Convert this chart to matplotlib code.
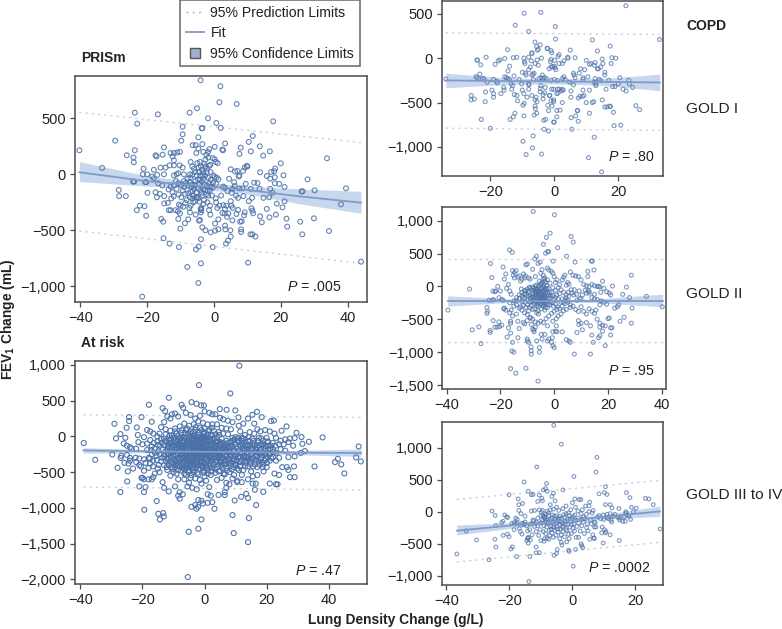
import matplotlib
matplotlib.use('Agg')
import matplotlib.pyplot as plt
import numpy as np
from matplotlib.lines import Line2D
from matplotlib.ticker import FuncFormatter

plt.rcParams['font.family'] = ['Liberation Sans', 'DejaVu Sans']
plt.rcParams['mathtext.fontset'] = 'custom'
plt.rcParams['mathtext.rm'] = 'Liberation Sans'
plt.rcParams['mathtext.it'] = 'Liberation Sans:italic'
plt.rcParams['mathtext.bf'] = 'Liberation Sans:bold'

W, H = 782, 629
POINT = '#4a70a8'
FIT = '#7f9bc6'
BAND = '#c6d7ee'
PRED = '#c5cde6'
FRAME = '#4a4a4a'
TEXT = '#222222'

# values: (lung density change, FEV1 change)
prism_pts = [
(-40.3,214),(-33.5,57),(-29.6,300),(-23.7,550),(-23,452),(-16.8,535),(-7.3,550),(-5.1,589),(-4,839),(1.9,786),
(1.6,643),(6.8,628),(-1.8,500),(0.7,458),(2,414),(-3.5,411),(-3.7,411),(-9.4,425),(-9.4,357),(-9.8,300),(-4.7,330),
(17.7,473),(11.6,342),(10.4,289),(8,238),(7.6,182),(11,205),(13.7,250),(14.7,167),(16.7,205),(33.8,143),(20,98),(18.3,51),
(-26.1,170),(-24.1,150),(-24,107),(-23.7,215),(-23.9,-65),(-24.2,-65),(-28.5,-140),(-28.4,-195),(-26.4,-195),(-23.1,-320),(-22.2,-280),
(-20.8,-285),(-20.3,-370),(-20.3,-70),(-20.6,-70),(-21.3,0),(-21.1,50),(-20,0),(-19.9,-165),(-18,40),(-18,-35),(-17.5,-160),
(-16.7,-80),(-17.1,-205),(-16.2,-175),(-16,60),(-15.5,-100),(-15,240),(-14.9,-260),(-14.9,-195),(-15,0),(-15.1,-571),
(-15.8,-399),(-15.2,-423),(-13.3,-619),(-10.5,-649),(-10.1,-485),(-10.7,-399),(-8,-827),(-3.9,-795),(-4.7,-970),(-21.5,-1092),
(10.2,-789),(-0.4,-649),(-3.9,-580),(-5.4,-670),(-4.6,-645),(3.6,-619),(4.2,-592),(5,-556),(4.9,-500),(3.3,-458),(3.4,-491),
(0.3,-440),(1.3,-402),(-1,-518),(0.3,-503),(1.3,-491),(-2.6,-500),(-3.5,-473),(-4.5,-414),(-4.2,-408),(-7.7,-402),(-8.7,-437),
(7.8,-423),(8.3,-420),(5.5,-411),(8.1,-491),(8.1,-515),(10.9,-536),(11.5,-536),(12.4,-556),(7.2,-318),(9.2,-339),(9,-366),(6.7,-354),
(11.2,-303),(11.5,-324),(11.7,-348),(13.8,-375),(14.3,-428),(15.8,-309),(16.6,-384),(18.5,-360),(18.8,-262),(20.5,-295),(21.1,-241),
(21.7,-396),(21.9,-467),(25.8,-423),(26.4,-536),(29.9,-393),(34.4,-506),(38,-268),(39.5,-125),(30.1,-143),(26.2,-152),(26.5,-152),(28,-45),(44,-780),
(20.8,-9),(21.1,-113),(19.5,-86),(18.2,-80),(18,27),(17.1,21),(18.2,-27),(15.8,-15),(16.8,-39),(13.8,18),(12,-75),(13,-78),
(14.8,-210),(16.5,-205),(16.8,-130),(17.5,-165),(13.6,-130),(11,-130),(9.5,-85),(8.5,-125),(7.5,-125),(6.2,-105),(6,-70),(5.6,-130),(4.5,-40),
(5,45),(6.3,25),(7,30),(7.6,-10),(7.4,-20),(8.7,30),(9.2,60),(9.8,75),(10,70),(3.3,275),(2.5,220),(2.7,215),(0.2,245),(-1.4,225),(-1.8,200),
(-3.5,270),(-5.5,260),(-6.4,260),(-4.7,230),(-5.3,190),(-3.2,200),(-2.3,175),(-1.7,150),(-2.6,130),(-0.4,145),(0.2,135),(0.5,110),(1.1,100),
(-10.2,200),(-11,195),(-12,190),(-13,190),(-12.4,160),(-15.4,175),(-17.5,170),(-17.2,160),(-13.3,80),(-12,80),(-12,125),(-10.3,80),(-9.4,60),
(-14.5,60),(-18.5,-20),(-17,-5),(-11.2,0),(-12,-10),(-10.7,10),(-9,0),(-7,110),(-6.5,70),(-6,50),(-5,100),(-4.2,110),(-3.9,70),(-3.6,40),
(-2.6,70),(-2.1,50),(-1.5,75),(-1,20),(-0.2,-10),(0.2,-25),(0.8,-30),(1.3,-45),(-3.2,15),(-3.4,-10),(-4.5,20),(-5.2,-10),(-6.5,-5),(-7.2,0),
(-7.9,-40),(-7.2,-70),(-6.6,-90),(-6,-130),(-5.5,-60),(-4.8,-45),(-4.2,-50),(-3.6,-65),(-2.8,-90),(-2.1,-100),(-1.4,-80),(-1,-110),(-0.4,-120),
(-4.8,-125),(-4.1,-140),(-3.2,-135),(-2.6,-140),(-1.9,-150),(-8.4,-75),(-9,-60),(-9.8,-95),(-10.6,-80),(-11.4,-60),(-12,-100),(-13,-110),(-13.6,-135),
(-12.4,-160),(-10.6,-180),(-9.8,-205),(-8.7,-175),(-7.7,-170),(-7,-155),(-6.2,-190),(-5.4,-205),(-4.7,-215),(-3.4,-190),(-1.7,-190),(-0.6,-190),
(-12.8,-215),(-13.8,-255),(-12.1,-195),(-11.5,-320),(-10.8,-330),(-10,-280),(-9.2,-290),(-8.2,-230),(-7.4,-300),(-7,-280),(-6.2,-250),(-5.7,-240),
(-5,-200),(-4,-310),(-3.8,-320),(-2,-250),(-1.2,-280),(-1.5,-320),(-1.1,-360),(0.5,-215),(0.6,-250),(1,-300),(1.6,-280),(2.8,-275),(3.3,-310),(3.7,-280),
(2.5,-345),(3.2,-350),(3.9,-380),(4.3,-350),(5,-240),(5.2,-280),(5.6,-300),(2.1,-190),(2.7,-110),(3.2,-120),(4,-150),(5.3,-165),(6.6,-190),(7.2,-210),
(8.8,-195),(10.4,-240),(11.4,-210),(-13,-320),(-13.5,-320),(-10.2,-350),(-7.2,-340),(-5.5,-360),(-3.8,-300),(-3.9,-340),(-10.5,-270),
(-6.8,-115),(-5.8,-95),(-4.4,-85),(-3.1,-40),(-1.8,-30),(-1,-50),(-0.3,-75),(0.6,-85),(-8.9,-115),(-7.9,-100),(-6.4,-150),(-5.3,-165),(-3.7,-165),(-2.4,-180),
(-1.2,-140),(-9.3,-145),(-11.2,-130),(-7.1,-30),(-4.1,-10),(-2.7,-15),(-2.2,20),(-1.1,85),(-3,95),(-4.6,60),(-5.7,20),(-7.2,-205),(-8.6,-255),(-6.5,-215),(-4.3,-245),(-3,-230),(-3.2,-265)]

risk_pts = [
(11.2,989),(-1.8,718),(8.3,602),(-11.5,541),(-17.9,443),(-4.2,480),(-2.6,457),(-7.4,443),(-6.9,401),(-1.1,434),(-0.2,434),(-13.5,397),(-12.7,355),
(9.9,364),(4.9,383),(7.1,373),(16.9,345),(15.4,303),(18.4,270),(10.9,266),(-24.3,270),(-24.3,215),(-20.3,270),(-17,205),(-29,177),(-25.1,121),
(-21.8,126),(-27.1,33),(-28.5,-28),(-25.5,-19),(-38.9,-93),(-35.2,-327),(-29.7,-252),(-28,-439),(-24.9,-630),(-27.1,-779),(-21,-700),(-19.5,-779),
(-19,-709),(-15.4,-905),(-19.4,-1027),(-14.9,-1083),(-13.3,-1073),(-13.1,-1120),(-14.4,-1162),(-5.1,-1334),(-2,-1292),(-1,-1162),(-5.4,-1969),
(9.4,-1353),(14,-1479),(14.3,-1143),(9,-1101),(16.6,-961),(3.2,-1012),(-2.6,-1012),(-4.2,-985),(-2.1,-985),(9.7,-896),(11.8,-845),(13.4,-803),(14,-863),
(18.9,-775),(16.2,-747),(50.3,-350),(49.6,-140),(48.8,-294),(45,-518),(44,-392),(42.9,-313),(42,-359),(38,-14),(35.4,-420),(33.6,-75),(32.3,-205),
(31.2,-9),(31.5,-103),(29.6,51),(29,-23),(26.4,140),(24.8,79),(22.3,224),(21.4,215),
(-26,-100),(-25,-130),(-25,-260),(-26.8,-270),(-27,-300),(-25.8,-370),(-24.5,-380),(-24,-300),(-24,-340),(-24.7,-490),(-23,-450),(-23.5,-170),(-22,-170),
(-24,-150),(-22.2,-300),(-21,-310),(-22,-360),(-20.5,-420),(-21,-400),(-19.5,-320),(-19,-370),(-20,-580),(-19.5,-600),(-18,-600),(-17,-600),(-16.5,-570),
(-21.5,20),(-19.5,-10),(-21.3,-80),(-20,-110),(-18.5,-190),(-18.5,90),(-17.5,70),(-16.5,40),(-17.5,-50),(-18.5,-100),(-17,-140),(-17,-250),(-18,-300),
(-16.5,-340),(-15.5,-270),(-15,-210),(-15,-120),(-15.2,0),(-14.5,40),(-14,130),(-12.5,100),(-13,200),(-11,250),(-10.5,310),(-12,280),(-9.5,320),(-8.5,280),
(-6,330),(-4.5,300),(-3,250),(-1.5,290),(0,350),(1.5,330),(2.5,310),(3.5,310),(5,260),(6,240),(7.5,220),(9,200),(11,150),(12.5,180),(14,250),(16,180),(17,100),
(18,70),(19.5,90),(21,70),(22.5,40),(23,-20),(24.5,-60),(26,-40),(27.5,-30),(28.5,-130),(26,-200),(24.5,-180),(27,-290),(29,-280),(31,-230),(24,-300),
(23,-340),(25,-430),(26.5,-430),(27,-470),(28.8,-420),(27.5,-570),(29,-570),(23,-670),(23.5,-670),(21,-660),(24,-540),(22.5,-520),(19,-490),(17,-540),
(15.5,-660),(16.5,-660),(15.5,-560),(14,-600),(12,-640),(10.5,-620),(10.5,-640),(8,-670),(7,-720),(6.5,-780),(4.5,-820),(6.5,-820),(2,-830),(1,-810),(-2,-890),
(-1,-900),(-0.5,-940),(1,-930),(2.5,-920),(-3,-960),(-5.5,-700),(-8,-780),(-8.5,-830),(-8,-870),(-7,-810),(-9.5,-700),(-11.5,-770),(-13.5,-640),(-13,-720),
(-11,-550),(-10,-500),(-8.5,-600),(-6.5,-600),(-5,-650),(-4,-720),(-2.5,-740),(-1,-660),(0.5,-620),(1.5,-710),(4,-610),(5.5,-580),(7,-650),(9,-590),(12,-540),
(14,-420),(15,-490),(17,-430),(18.5,-360),(19.5,-310),(21,-250),(22,-180),(20.5,-130),(19,-60),(17.5,-20),(16,40),(14.5,60),(13,20),(11.5,70),(10,-10),
(8.5,100),(7,110),(5.5,120),(4,170),(2.5,170),(1,170),(-0.5,190),(-2,210),(-3.5,170),(-5,150),(-6.5,180),(-8,140),(-9.5,110),(-11,80),(-12.5,30),(-14,-40),
(-13,-120),(-12,-170),(-13,-250),(-14,-350),(-13,-400),(-12,-470),(-10.5,-430),(-9,-520),(-7.5,-480),(-6,-540),(-4.5,-580),(-3,-590),(-1.5,-610),(0,-560),
(2,-540),(3.5,-510),(5,-480),(6.5,-530),(8,-500),(9.5,-540),(11,-470),(12.5,-470),(13.5,-340),(15,-320),(16.5,-280),(18,-240),(19.5,-200),(17,-150),(15.5,-100),
(14,-60),(12,-100),(10.5,-60),(9,-20),(7.5,30),(6,40),(4.5,60),(3,80),(1.5,90),(0,110),(-1.5,120),(-3,90),(-4.5,70),(-6,90),(-7.5,50),(-9,40),(-10.5,10),(-11.5,-50),
(-10.5,-130),(-11,-210),(-10,-280),(-11,-350),(-9.5,-400),(-8,-420),(-6.5,-460),(-5,-470),(-3.5,-500),(-2,-530),(-0.5,-480),(1,-470),(2.5,-440),(4,-430),(5.5,-400),
(7,-440),(8.5,-410),(10,-400),(11.5,-360),(12.5,-280),(14,-230),(12.8,-170),(11.5,-130),(10,-110),(8.5,-90),(7,-60),(5.5,-30),(4,-10),(2.5,10),(1,30),(-0.5,40),
(-2,20),(-3.5,10),(-5,-5),(-6.5,-10),(-8,-30),(-9.5,-50),(-9,-120),(-8.2,-180),(-8.7,-240),(-8,-310),(-7,-370),(-5.5,-390),(-4,-410),(-2.5,-430),(-1,-410),(0.5,-400),
(2,-380),(3.5,-360),(5,-340),(6.5,-350),(8,-330),(9.5,-320),(10.5,-250),(9.5,-190),(8,-170),(6.5,-130),(5,-110),(3.5,-80),(2,-60),(0.5,-40),(-1,-30),(-2.5,-50),(-4,-60),
(-5.5,-70),(-7,-90),(-7,-150),(-6,-210),(-6.8,-270),(-5.5,-320),(-4,-340),(-2.5,-360),(-1,-340),(0.5,-320),(2,-300),(3.5,-280),(5,-270),(6.5,-260),(8,-250),(7,-200),
(5.5,-190),(4,-150),(2.5,-130),(1,-110),(-0.5,-100),(-2,-110),(-3.5,-120),(-5,-130),(-4.5,-190),(-5,-250),(-4,-280),(-2.5,-300),(-1,-270),(0.5,-250),(2,-230),(3.5,-210),
(2.5,-180),(1,-170),(-0.5,-160),(-2,-170),(-3.5,-180),(-3,-240),(-1.5,-220),(0,-210),(1,-270),(-3.5,-310),(-2,-260),(-6,-150),(-7.8,-120),(-8,-60),(-10,-80),(-12,-300),
(-15,-450),(-16,-520),(-14.5,-500),(-16,-170),(-17.5,-380),(-18,-440),(-19.5,-480),(-20.3,-580),(-9,-380),(-5,-30),(-3,-20),(-1,-5),(0,0),(2,20),(12,-20),(13,-190),(14,-120),
(15,-170),(16,-220),(17,-270),(18,-320),(19,-390),(20,-430),(21,-340),(22,-290),(23,-230),(24,-110),(25.5,-110),(27,-80),(22,-90),(20,-20),(18.5,-130),(20.5,-190)]

# the packed middle of the at risk cloud
risk_core = [
(-13.7,-90),(-13.4,-180),(-13.6,-300),(-12.7,-60),(-12.6,-210),(-12.4,-350),(-12.2,-430),(-11.8,-130),(-11.7,-250),(-11.6,-390),(-11.3,10),(-11.2,-100),(-11.1,-170),(-11,-280),
(-10.8,-30),(-10.7,-240),(-10.6,-380),(-10.4,-160),(-10.3,-460),(-10,-20),(-9.9,-120),(-9.8,-220),(-9.7,-320),(-9.5,-440),(-9.4,70),(-9.3,-170),(-9.2,-270),(-9.1,-350),(-8.9,-60),
(-8.8,-150),(-8.7,-300),(-8.6,-410),(-8.5,-470),(-8.4,10),(-8.3,-90),(-8.2,-220),(-8.1,-360),(-7.9,-150),(-7.8,-260),(-7.7,-20),(-7.6,-200),(-7.5,-330),(-7.4,-400),(-7.3,90),(-7.2,-120),
(-7.1,-240),(-7,-300),(-6.9,-440),(-6.8,-50),(-6.7,-170),(-6.6,-340),(-6.5,-520),(-6.4,40),(-6.3,-110),(-6.2,-280),(-6.1,-400),(-6,-30),(-5.9,-250),(-5.8,-180),(-5.7,-440),(-5.6,110),(-5.5,-100),
(-5.4,-270),(-5.3,-350),(-5.2,-500),(-5.1,-60),(-5,-170),(-4.9,-300),(-4.8,-420),(-4.7,40),(-4.6,-90),(-4.5,-230),(-4.4,-380),(-4.3,-540),(-4.2,-20),(-4.1,-150),(-4,-250),(-3.9,-450),(-3.8,60),
(-3.7,-90),(-3.6,-210),(-3.5,-370),(-3.4,-470),(-3.3,-40),(-3.2,-140),(-3.1,-280),(-3,-400),(-2.9,130),(-2.8,-70),(-2.7,-200),(-2.6,-330),(-2.4,-510),(-2.3,-10),(-2.2,-130),(-2.1,-240),(-2,-390),
(-1.9,60),(-1.8,-80),(-1.7,-190),(-1.6,-300),(-1.5,-450),(-1.4,-30),(-1.3,-140),(-1.2,-240),(-1.1,-380),(-1,90),(-0.9,-70),(-0.8,-200),(-0.7,-310),(-0.6,-440),(-0.5,-10),(-0.4,-130),(-0.3,-230),(-0.2,-360),
(-0.1,-510),(0,60),(0.1,-80),(0.2,-180),(0.3,-290),(0.4,-430),(0.6,-20),(0.7,-140),(0.8,-220),(0.9,-350),(1.1,-520),(1.2,70),(1.3,-70),(1.4,-190),(1.5,-300),(1.6,-420),(1.8,-30),(1.9,-130),(2,-260),
(2.1,-340),(2.3,-490),(2.4,120),(2.6,-90),(2.7,-210),(2.8,-310),(2.9,-400),(3.1,-40),(3.2,-160),(3.3,-250),(3.4,-460),(3.6,30),(3.7,-120),(3.8,-230),(3.9,-330),(4.1,-70),(4.2,-190),(4.3,-290),(4.4,-390),
(4.6,-490),(4.7,20),(4.8,-140),(4.9,-240),(5.1,-80),(5.2,-310),(5.3,-370),(5.6,-160),(5.7,-230),(5.8,-440),(6,-90),(6.1,-300),(6.2,-520),(6.4,-180),(6.6,-390),(6.8,-110),(7,-280),(7.2,-480),(7.4,-150),
(7.6,-330),(7.8,-210),(8.2,-130),(8.4,-290),(8.6,-370),(8.8,-460),(9.2,-60),(9.4,-220),(9.6,-280),(9.8,-380),(10.2,-150),(10.4,-330),(10.6,-450),(10.8,-20),(11.2,-190),(11.4,-290),(11.6,-410),(12,-60),
(12.2,-230),(12.4,-130),(12.6,-350),(13,-420),(13.2,-80),(13.4,-290),(13.6,-180),(14.2,-10),(14.4,-310),(14.6,-130),(14.8,-390),(15.2,-230),(15.4,-30),(15.6,-420),(16.2,-130),(16.4,-340),(16.6,-190),(17.2,-60),
(17.4,-350),(17.8,-220),(18.2,-110),(18.4,-290),(18.7,-430),(19.2,-160),(19.4,-250),(20.2,-80),(20.4,-290),(21.2,-170),(21.4,-300),(-14.5,-250),(-14.3,-130),(-14.7,-400),(-15.2,-70),(-15.4,-330),(-16,-230),
(-16.3,-90),(-16.6,-420),(-17.2,-190),(-17.6,-310),
(-13.1,-30),(-12.9,-280),(-12.3,-70),(-11.9,-320),(-11.5,-140),(-10.9,-90),(-10.5,-300),(-10.1,-370),(-9.6,-20),(-9.4,-260),(-9,-170),(-8.6,-120),(-8.3,-330),(-8,-100),(-7.7,-390),(-7.4,-170),(-7.1,-20),
(-6.9,-200),(-6.6,-70),(-6.3,-320),(-6,-430),(-5.8,-130),(-5.6,-290),(-5.3,30),(-5,-90),(-4.8,-250),(-4.6,-350),(-4.3,-130),(-4.1,-440),(-3.9,-30),(-3.7,-240),(-3.4,-90),(-3.2,-320),(-3,-170),(-2.8,10),
(-2.6,-250),(-2.4,-130),(-2.2,-400),(-1.9,-200),(-1.7,-30),(-1.5,-120),(-1.3,-350),(-1.1,-180),(-0.9,-290),(-0.7,-90),(-0.4,-420),(-0.2,-40),(0.1,-290),(0.3,-130),(0.5,-200),(0.8,-440),(1,-60),(1.2,-230),
(1.4,-340),(1.7,-120),(2,-170),(2.2,-280),(2.5,-30),(2.8,-110),(3,-390),(3.3,-200),(3.6,-300),(3.9,-90),(4.2,-240),(4.5,-180),(4.8,-290),(5.1,-350),(5.4,-120),(5.7,-300),(6,-220),(6.3,-390),(6.6,-150),(6.9,-340),
(7.2,-270),(7.5,-90),(7.8,-380),(8.1,-210),(8.4,-70),(8.7,-260),(9,-140),(9.3,-430),(9.6,-40),(9.9,-260),(10.2,-350),(10.5,-170),(10.8,-290),(11.1,-80),(11.4,-420),(11.7,-240),(12,-330),(12.3,-170),(12.6,-30),
(12.9,-260),(13.2,-370),(13.5,-120),(13.8,-300),(14.1,-190),(14.4,-70),(14.7,-350),(15,-250),(15.3,-130),(15.6,-300),(15.9,-60),(16.2,-390),(16.5,-170),(16.8,-320),(17.1,-230),(17.4,-120),(17.7,-400),(18,-180),
(18.3,-30),(18.6,-260),(18.9,-110),(19.2,-340),(19.5,-130),(19.8,-240),(20.1,-370),(20.4,-70),(20.7,-240),(21.5,-130),(22.2,-220),(22.8,-130)]

gold1_pts = [
(-33.9,-235),(-26,-420),(-26,-470),(-25,-460),(-22.8,-690),(-20,-790),(-24.2,-20),(-24,-25),(-21.3,10),(-23,-75),(-18.5,-70),(-17.5,-30),(-17,-20),(-15.5,-5),(-14.6,95),
(-14.5,-145),(-14,-90),(-12.8,5),(-11.7,10),(-12.2,370),(-8,300),(-9.4,505),(-4.2,515),(0.3,355),(0.4,215),(11.9,205),(17.5,135),(22.4,590),(32.9,210),(13.5,80),(18,5),(19.2,0),(17.8,-60),
(-24.5,-210),(-24,-220),(-23.3,-180),(-22.5,-230),(-22,-230),(-21,-270),(-21.5,-380),(-21.6,-490),(-19.5,-360),(-19,-400),(-19,-440),(-19,-240),(-18,-260),(-17.8,-280),(-16.7,-400),
(-15.8,-330),(-15.7,-360),(-15.5,-210),(-15,-220),(-14.5,-230),(-14,-240),(-13.5,-290),(-13,-310),(-13.3,-350),(-12.6,-200),(-12.5,-410),(-12.3,-620),(-12.8,-660),(-13.8,-690),(-11.7,-420),(-11.5,-480),
(-11,-240),(-10.2,-290),(-10,-360),(-10,-160),(-9.5,0),(-9.3,-40),(-9.2,-60),(-9,-170),(-8.8,-190),(-9.5,-400),(-9.8,-530),(-9.4,-510),(-9.5,-650),(-8.5,-440),(-8,-350),(-8,-290),(-7.9,-300),(-8,-130),(-8,10),
(-7.5,-100),(-7,50),(-7,60),(-7.2,-30),(-7,-190),(-6.7,-180),(-6.3,-170),(-6.5,-240),(-6.3,-640),(-6,-540),(-5.9,-570),(-5.5,-620),(-7,-420),(-5.7,-440),(-6,-470),(-5.4,-490),
(-6,180),(-5.5,130),(-5.3,90),(-5,100),(-4.4,150),(-4,0),(-5.3,-20),(-6,-60),(-5,-80),(-4.8,-230),(-4.2,-220),(-3.7,-190),(-3.5,-230),(-3,-220),(-2.5,-230),(-2.8,-330),(-4.2,-310),(-4.4,-340),
(-4.4,-380),(-3.5,-410),(-3,-390),(-3.5,-460),(-3.3,-700),(-2.7,-690),(-3.2,-800),(-1.8,-820),(-4,-1080),(-6.8,-1010),(-6.6,-875),(-9.8,-935),(-8.8,-1085),(-2.2,110),(-2.1,108),(-1,85),(-0.8,60),(-1,-15),(-1.2,-40),(0.1,-25),
(-1.6,-120),(-1,-100),(-0.5,-95),(0,-90),(0.2,-110),(0.5,-130),(-1,-250),(0,-240),(1,-250),(-0.8,-350),(-0.2,-350),(1,-350),(1.2,-390),(1.5,-350),(0.8,-400),(-1.5,-420),(-1.4,-420),(-1,-480),(-0.2,-470),(-0.2,-490),(-2,-530),
(-0.7,-540),(-1.8,-590),(0.8,-590),(1.8,-585),(0.8,-660),(-0.2,-720),(0,-720),(2.5,-500),(2.5,-350),(2.8,-360),(2.2,-370),(3,-210),(2.6,-230),(3.4,-240),(1.5,-60),(2.5,-60),(3,-30),(1.2,20),(1.5,40),(4.2,10),(4.3,0),(5,90),(6.5,5),
(4.8,-270),(5.2,-370),(5.2,-440),(6,-300),(5.3,-670),(6.7,-650),(5.5,-800),(7.5,-710),(7.3,-590),(7.2,-590),(7.5,-450),(8,-430),(9,-360),(8.8,-430),(9.3,-420),(10,-500),(11,-360),(11,-620),(11.9,-500),(12.3,-490),(13,-310),
(6,-170),(6.2,-190),(6.5,-220),(7.8,-170),(8.2,-120),(9,-240),(9,-220),(9.5,-130),(10,-25),(10.5,-210),(11,-70),(11.5,-60),(12.5,-80),(12.8,-50),(13.5,-120),(13.8,-120),(14.5,-100),(15,-10),(15.2,-60),(15.8,-160),
(15.8,-190),(12.5,-270),(12.8,-230),(13,-290),(14,-240),(14.5,-250),(15,-470),(15.8,-550),(16.5,-550),(17.3,-540),(17.6,-545),(14.8,-1280),(12.5,-890),(10.7,-1120),(16.2,-350),(17,-250),(18.2,-320),(18.5,-610),(18.7,-760),
(19,-320),(20,-290),(20.5,-220),(20.8,-755),(21.5,-350),(22.5,-370),(23.3,-250),(23.5,-290),(24.5,-330),(25.5,-535),(26.7,-580)]

gold2_pts = [
(-39.5,-360),(-31.5,-40),(-30.5,-660),(-28,-615),(-27.2,-870),(-25,-320),(-25,-410),(-24.8,-380),(-23.7,350),(-23.2,135),(-23.8,-670),(-23.8,-700),(-24.2,-210),(-23,-210),(-22.8,-70),(-22,-80),(-22.7,-520),(-22,-620),(-21.2,-620),
(-20.6,-540),(-20.3,-610),(-19.5,-590),(-19,295),(-18.5,110),(-18,190),(-17.5,-770),(-17,-630),(-16.6,555),(-15.6,520),(-16.5,-250),(-16.2,-530),(-16.2,-1250),(-15.7,-980),(-15,-1000),(-14.3,-1320),(-13.5,-780),
(-15.5,-850),(-16.2,-710),(-10.5,-1245),(-10,-800),(-10,-830),(-9.5,-850),(-8.6,-920),(-8.5,-980),(-8.5,-1030),(-7.8,1140),(-7.2,420),(-6.6,460),(-6,-1440),(-5.5,-930),(-5.5,-1000),(0.1,1090),(-2.9,745),(-1.5,810),
(-4,640),(-3.2,505),(-2.4,530),(-2.1,530),(-0.4,385),(1.3,590),(4.6,460),(6.3,760),(7.1,675),(7.8,370),(13.8,385),(14.2,385),(14.8,250),(12.5,230),(12.5,150),(28.7,170),(26.9,-10),(21.7,5),
(-21,0),(-21.8,-70),(-22.5,-200),(-20.5,-170),(-20,-70),(-19.5,-200),(-19,-210),(-18.8,-340),(-18.5,-330),(-18,-360),(-17.7,-30),(-17,30),(-16.5,-70),(-16,-120),(-15.5,240),(-15.2,170),(-14.8,130),(-14.7,210),(-14.2,240),
(-13.5,140),(-13,160),(-12.5,80),(-12,110),(-11.4,190),(-11,130),(-10.7,160),(-10.5,330),(-10,340),(-9.5,130),(-9,110),(-8,260),(-7,150),(-6,350),(-5.2,370),(-5,200),(-4.5,255),(-4,170),(-2.5,280),(-2,250),
(-1,230),(-0.5,200),(0,150),(0.5,60),(1,100),(2,30),(3,100),(3.5,140),(4,170),(4.5,20),(5,60),(5.5,35),(6,220),(7,170),(8,160),(9,150),(10,100),(11,30),(12,10),(13,0),(14,30),(15,10),(16,0),(17,-5),(18,80),(18.5,-30),(19.5,-80),
(20.5,-100),(21,-130),(17,-280),(16,-200),(15,-120),(13,-80),(12,-100),(11.5,-60),(10,-190),(9.5,-180),(8.5,-210),(7.5,-50),(6.5,-100),(5.5,-150),(4.5,-130),(3.5,-90),(2.5,-50),(1.5,-20),(0.5,-60),(-0.5,-20),(-1.5,50),(-2.5,100),
(-3.5,130),(-4,120),(-3.5,90),(-4.5,60),(-5,30),(-5.5,80),(-6.5,20),(-7,10),(-8,-10),(-9,-30),(-10,-40),(-11,-60),(-12,-90),(-13,-130),(-14,-170),(-15,-220),(-14,-280),(-13,-330),(-12,-360),(-11,-400),(-10,-430),(-9,-470),
(-8,-500),(-7,-540),(-6,-560),(-5,-530),(-4,-550),(-3,-490),(-2,-450),(-1,-410),(0,-380),(1,-350),(2,-340),(3,-300),(4,-260),(5,-240),(6,-280),(7,-300),(8,-350),(9,-380),(10,-310),(11,-380),(12,-420),(13,-340),(14,-380),(15,-410),
(16,-500),(17,-560),(18,-590),(19,-600),(20,-490),(20.5,-480),(21.5,-630),(21,-630),(21,-740),(19,-900),(18,-680),(17,-620),(17,-750),(16.5,-780),(14,-740),(14.5,-850),(13.5,-1030),(7.5,-1030),(6,-850),(5.5,-830),(4.5,-810),
(3,-690),(1,-690),(0.5,-680),(0.8,-600),(-0.5,-690),(-0.7,-780),(-1,-850),(-0.5,-900),(0,-930),(-2,-800),(-2.5,-830),(-3.5,-730),(-4.8,-730),(-4.5,-800),(-6.5,-830),(-7.5,-690),(-8,-650),(-7.5,-660),(-7,-620),(-8.5,-580),(-8.7,-480),
(-10,-520),(-11,-570),(-11.5,-550),(-13,-640),(-13.5,-530),(-14,-420),(-15.5,-450),(-16.2,-560),(-16.5,-400),(-16,-360),(-15,-300),(-14,-220),(-13,-180),(-12,-140),(-11,-110),(-10.5,-70),(-9.5,-80),(-9,-130),(-8.5,-170),
(-8,-110),(-7.5,-60),(-7,-90),(-6.5,-150),(-6,-110),(-5.5,-60),(-5,-30),(-4.5,-80),(-4,-60),(-3.5,-40),(-3,-30),(-2.5,-100),(-2,-130),(-1.5,-170),(-1,-90),(-0.5,-140),(0,-200),(0.5,-170),(1,-130),(1.5,-190),(2,-110),(3,-190),
(4,-210),(5,-210),(6,-320),(4.5,-350),(3.5,-370),(2.5,-420),(1.5,-450),(0.8,-490),(-0.5,-530),(-2.5,-600),(-3.5,-360),(-4,-300),(-5,-270),(-6,-230),(-7,-190),(-8,-210),(-9,-240),(-10,-200),(-11,-180),(-12,-230),(-12.5,-310),
(-11.5,-290),(-10.5,-320),(-9.5,-370),(-8.5,-290),(-7.5,-260),(-6.5,-290),(-5.5,-190),(-4.5,-170),(-3.5,-200),(-3,-250),(-2.5,-320),(-1.5,-280),(-0.5,-250),(-3.8,-130),(-4.5,-110),(-5,-160),(-5.5,-130),(-6,-180),(-6.7,-60),
(-7.2,-140),(-7.7,-180),(-8.3,-230),(-4,-10),(-3.5,-150),(-4.2,-190),(-5.2,-220),(-6.2,-260),(-7.2,-340),(-6.5,-400),(-6,-370),(-5.8,-420),(-3.7,-270),(-4.8,-340),(9,-520),(10,-560),(10.5,-660),(9.2,-580),(8.5,-700),(12,-550),(13.5,-600),
(15.5,-360),(17.5,-220),(18.5,-240),(19.5,-270),(15,-190),(14,-170),(23.5,-310),(22.5,-330),(24,-280),(24.5,-530),(25.5,-120),(26,-470),(28,-170),(29,-330),(28.7,-560),(34.3,-150),(40.2,-310),(16.5,0),(17.3,-90),(12.7,-60),(13,-100),
(-9.2,-10),(-8.4,-60),(-7.8,-30),(-6.9,-120),(-6.3,-40),(-5.8,-90),(-5.2,-120),(-4.7,-30),(-4.2,-130),(-3.7,-80),(-3.2,-110),(-2.8,-60),(-2.2,-30),(-1.8,-90),(-1.2,-140),(-8.9,-190),(-8.1,-150),(-7.4,-220),(-6.8,-110),(-6.1,-70),
(-5.4,-170),(-4.9,-210),(-4.3,-240),(-3.9,-170),(-3.3,-170),(-2.7,-220),(-2.1,-180),(-9.7,-150),(-10.2,-120),(-10.8,-240),(-11.7,-170),(-12.2,-40),(-9.9,-280),(-9.1,-320),(-7.9,-350),(-6.9,-240),(-5.9,-300),(-4.4,-290),(-3.3,-320),(-4.7,50),
(-3.9,30),(-3.2,60),(-2.7,10),(-5.8,0),(-6.8,-30),(-3.5,-230),(-2.3,-280),(-1.3,-240),(-0.3,-300),(0.6,-270),(1.3,-310),(2.5,-240),(3.4,-240),(4.4,-170),(5.3,-90),(6.3,-50),(7.3,-130),(8.3,-120),(9.3,-70),(10.5,-130)]

gold3_pts = [
(-36.7,-660),(-33.7,-300),(-30.4,-440),(-26.5,-750),(-25.5,10),(-24.5,-60),(-24.6,-430),(-24.3,-215),(-24.3,-550),(-22.5,-170),(-22,-370),(-21.5,-50),(-20.9,-80),(-20.6,-350),(-20.5,-90),(-20.1,265),(-20.1,-390),(-19.5,-580),
(-19.2,-180),(-19,-550),(-18.5,-170),(-18,-190),(-17.7,-700),(-17.5,-170),(-17.2,200),(-17,110),(-16.3,-30),(-15.8,130),(-15.3,-190),(-15.3,465),(-15,-160),(-14.5,-450),(-14,-410),(-14,-490),(-14,320),(-13.8,-1090),(-13.5,-700),
(-13,265),(-12.5,270),(-12.3,-140),(-11.5,-640),(-11.5,-550),(-11.3,700),(-10.5,-640),(-10.5,260),(-10.5,30),(-10,-450),(-9.7,210),(-9.5,170),(-9,-460),(-8.5,360),(-8,320),(-7.5,-430),(-6.5,240),(-6,290),(-5.8,-680),(-5.9,1350),(-5,-650),
(-4.8,-590),(-3.5,1055),(-3,340),(-1,-620),(-1.2,-600),(0.3,-850),(0.5,550),(0.8,200),(1,-590),(2,-400),(2.8,-500),(3,-530),(3.3,-560),(2.7,190),(3,-120),(5.3,90),(5.5,-430),(5.5,150),(6.5,-360),(6.8,-410),(7,-420),(7.5,620),(7.8,850),
(8.5,280),(9.3,-330),(9.8,-490),(10.2,300),(10.5,390),(10.5,110),(11,270),(12,110),(12,-360),(12.6,60),(14.9,-450),(14.8,50),(16.8,-150),(17,0),(17.2,300),(17.5,-50),(18.3,220),(18.5,-120),(18.8,70),(19.4,0),(20.3,55),(23.2,210),(24.3,200),(25.7,110),(27.9,-270),
(-22,-150),(-18.5,-280),(-18,-100),(-17.5,-120),(-17,20),(-16.8,-260),(-16.5,-310),(-16,-180),(-16,-350),(-15.5,-200),(-15,-70),(-14.5,-220),(-14.2,-300),(-14,-400),(-13.5,-280),(-13.2,-190),(-13,10),(-12.8,-360),(-12.5,-130),(-12,-230),
(-12,20),(-11.5,-160),(-11.5,-310),(-11,-100),(-11,-220),(-11,160),(-10.7,-370),(-10.2,-280),(-10,-170),(-10,-60),(-9.5,-130),(-9.5,20),(-9.2,-310),(-9,-90),(-9,-220),(-8.8,-420),(-8.5,-40),(-8.5,-140),(-8.5,-340),(-8.2,-240),(-8,-410),(-8,10),
(-7.8,-130),(-7.5,-60),(-7.5,-180),(-7.3,-290),(-7.2,-370),(-7,30),(-7,110),(-6.8,-220),(-6.5,-100),(-6.5,-330),(-6.3,-50),(-6,-160),(-6,-400),(-6,40),(-5.8,-250),(-5.5,-290),(-5.5,-120),(-5.5,170),(-5.2,-370),(-5,-180),(-5,70),(-5,-60),
(-4.8,-230),(-4.5,-130),(-4.5,-320),(-4.3,20),(-4,-70),(-4,-200),(-4,-420),(-3.8,-270),(-3.5,-110),(-3.5,-480),(-3.5,-360),(-3.3,-520),(-3.2,-170),(-3,50),(-3,-310),(-2.8,-230),(-2.5,-90),(-2.5,-390),(-2.3,-150),(-2,-280),(-2,-30),(-2,90),(-1.8,-470),
(-1.5,-120),(-1.5,-200),(-1.2,-350),(-1,-60),(-1,-420),(-0.8,-240),(-0.5,30),(-0.5,-150),(-0.3,-340),(0,-100),(0,140),(0.2,-260),(0.5,-190),(0.8,-50),(1,70),(1,-130),(1.2,-400),(1.5,-230),(1.8,10),(2,-100),(2,-180),(2.2,190),(2.5,-300),(2.8,-30),
(3,-220),(3.2,30),(3.5,-80),(3.5,-160),(3.8,-340),(4,-110),(4.2,90),(4.5,-40),(4.5,-250),(4.8,-190),(5,-300),(5.3,0),(5.8,-130),(6,-190),(6.3,-20),(6.6,20),(7,-160),(7,-240),(7.3,-170),(7.5,-240),(8,-80),(8.5,-60),(9,-110),(9.5,-240),(9.8,-50),(10,-120),
(10.2,-280),(10.5,-330),(10.7,-310),(11,-90),(11,-40),(11.5,-110),(12,-30),(12.3,-130),(12.5,-160),(13,-70),(13.5,-40),(14.5,-90),(15,-130),(15,-100),(16,-150),(16.5,-80),(17,-20),(18,-70),(-8.2,440),(-9.2,340),(-8.8,-70),(-13.3,-440),(-14.2,-420),
(-9.8,-10),(-9.3,-60),(-8.7,-110),(-8.1,-170),(-7.6,-20),(-7,-120),(-6.7,-280),(-6.2,-230),(-5.7,-70),(-5.2,-150),(-4.7,-270),(-4.2,-100),(-3.7,-160),(-3.2,-240),(-2.7,-50),(-2.2,-200),(-1.7,-300),(-1.2,-20),(-0.7,-110),(-0.2,-200),(0.3,-70),(0.7,-300)]

prism_x = [-40.3, -20, -5, 10, 25, 44]
prism_fit = [18, -62, -100, -140, -195, -253]
prism_lo = [-65, -105, -130, -175, -260, -348]
prism_hi = [113, -15, -70, -105, -130, -152]
prism_pred_x = [-40.3, 44]
prism_pred_hi = [553, 283]
prism_pred_lo = [-506, -795]

risk_x = [-39, -10, 5, 25, 50.4]
risk_fit = [-196, -212, -217, -225, -233]
risk_lo = [-233, -228, -233, -250, -280]
risk_hi = [-159, -196, -201, -200, -177]
risk_pred_x = [-39, 50.4]
risk_pred_hi = [303, 266]
risk_pred_lo = [-709, -751]

gold1_x = [-33.9, -15, 0, 15, 33]
gold1_fit = [-251, -258, -262, -267, -274]
gold1_lo = [-334, -295, -290, -305, -367]
gold1_hi = [-169, -222, -232, -230, -180]
gold1_pred_x = [-33.9, 33]
gold1_pred_hi = [285, 266]
gold1_pred_lo = [-788, -814]

gold2_x = [-39.6, -15, -3, 15, 40.3]
gold2_fit = [-218, -218, -218, -218, -218]
gold2_lo = [-299, -240, -238, -245, -309]
gold2_hi = [-142, -196, -198, -192, -117]
gold2_pred_x = [-39.6, 40.3]
gold2_pred_hi = [411, 411]
gold2_pred_lo = [-852, -852]

gold3_x = [-36.7, -20, -5, 10, 27.8]
gold3_fit = [-296, -218, -150, -80, 5]
gold3_lo = [-364, -262, -180, -115, -73]
gold3_hi = [-208, -172, -120, -45, 88]
gold3_pred_x = [-36.7, 27.8]
gold3_pred_hi = [192, 489]
gold3_pred_lo = [-785, -478]

fig = plt.figure(figsize=(W / 100, H / 100), dpi=100)


def panel(box, xlim, ylim, xticks, yticks, pts, cx, fit, lo, hi, px, phi, plo, ptext, size, alpha):
    left, top, right, bottom = box
    ax = fig.add_axes([left / W, 1 - bottom / H, (right - left) / W, (bottom - top) / H])
    ax.fill_between(cx, lo, hi, color=BAND, lw=0, zorder=1)
    ax.plot(px, phi, color=PRED, ls=(0, (1.5, 3)), lw=1, zorder=2)
    ax.plot(px, plo, color=PRED, ls=(0, (1.5, 3)), lw=1, zorder=2)
    xy = np.array(pts)
    ax.scatter(xy[:, 0], xy[:, 1], s=size, facecolors='none', edgecolors=POINT, linewidths=0.8,
               alpha=alpha, zorder=3, clip_on=False)
    ax.plot(cx, fit, color=FIT, lw=1.3, zorder=4)
    ax.set_xlim(xlim)
    ax.set_ylim(ylim)
    ax.set_xticks(xticks)
    ax.set_yticks(yticks)
    ax.xaxis.set_major_formatter(FuncFormatter(lambda v, _: f'{v:,.0f}'.replace('-', '\u2212')))
    ax.yaxis.set_major_formatter(FuncFormatter(lambda v, _: f'{v:,.0f}'.replace('-', '\u2212')))
    ax.tick_params(length=3.5, width=0.9, color=FRAME, labelsize=10.5, labelcolor=TEXT, pad=3)
    for s in ax.spines.values():
        s.set_color(FRAME)
        s.set_linewidth(1.1)
    ax.text(*ptext, transform=ax.transAxes, ha='right', va='center', fontsize=10.2, color=TEXT)
    return ax


panel((74.7, 75.7, 366.7, 301.7), (-41.7, 45.7), (-1137, 880), [-40, -20, 0, 20, 40], [-1000, -500, 0, 500],
      prism_pts, prism_x, prism_fit, prism_lo, prism_hi, prism_pred_x, prism_pred_hi, prism_pred_lo,
      (0.912, 0.065, r'$\mathit{P}$ = .005'), 12, 0.85)
panel((74.7, 360.7, 366.7, 584.3), (-41.8, 52.2), (-2070, 1060), [-40, -20, 0, 20, 40], [-2000, -1500, -1000, -500, 0, 500, 1000],
      risk_pts + risk_core, risk_x, risk_fit, risk_lo, risk_hi, risk_pred_x, risk_pred_hi, risk_pred_lo,
      (0.912, 0.061, r'$\mathit{P}$ = .47'), 13, 0.95)
panel((441.7, 1, 663.3, 175.7), (-35.2, 34.1), (-1323, 643), [-20, 0, 20], [-1000, -500, 0, 500],
      gold1_pts, gold1_x, gold1_fit, gold1_lo, gold1_hi, gold1_pred_x, gold1_pred_hi, gold1_pred_lo,
      (0.961, 0.107, r'$\mathit{P}$ = .80'), 8, 0.7)
panel((442.3, 207.3, 666.3, 389.3), (-41.6, 41.7), (-1565, 1204), [-40, -20, 0, 20, 40], [-1500, -1000, -500, 0, 500, 1000],
      gold2_pts, gold2_x, gold2_fit, gold2_lo, gold2_hi, gold2_pred_x, gold2_pred_hi, gold2_pred_lo,
      (0.948, 0.099, r'$\mathit{P}$ = .95'), 8, 0.7)
panel((441.7, 422.3, 663.3, 584.7), (-41.5, 28.9), (-1140, 1397), [-40, -20, 0, 20], [-1000, -500, 0, 500, 1000],
      gold3_pts, gold3_x, gold3_fit, gold3_lo, gold3_hi, gold3_pred_x, gold3_pred_hi, gold3_pred_lo,
      (0.941, 0.101, r'$\mathit{P}$ = .0002'), 7, 0.7)

# headings and row labels
fig.text(81 / W, 1 - 58 / H, 'PRISm', fontsize=10, fontweight='bold', color=TEXT, va='center')
fig.text(81 / W, 1 - 343 / H, 'At risk', fontsize=10, fontweight='bold', color=TEXT, va='center')
fig.text(686 / W, 1 - 26 / H, 'COPD', fontsize=10, fontweight='bold', color=TEXT, va='center')
fig.text(686 / W, 1 - 109 / H, 'GOLD I', fontsize=11.1, color=TEXT, va='center')
fig.text(686 / W, 1 - 294 / H, 'GOLD II', fontsize=11.1, color=TEXT, va='center')
fig.text(686 / W, 1 - 495 / H, 'GOLD III to IV', fontsize=11.1, color=TEXT, va='center')
fig.text(396 / W, 1 - 620 / H, 'Lung Density Change (g/L)', fontsize=9.9, fontweight='bold', color=TEXT,
         ha='center', va='center')
fig.text(8 / W, 1 - 319 / H, r'FEV$_{\mathbf{1}}$ Change (mL)', fontsize=9.9, fontweight='bold', color=TEXT,
         rotation=90, ha='center', va='center')

handles = [Line2D([], [], color='#a9b8d8', ls=(0, (1.5, 3)), lw=1),
           Line2D([], [], color=FIT, lw=1.3),
           Line2D([], [], ls='none', marker='s', markersize=7, markerfacecolor='#9fb0d2',
                  markeredgecolor='#555555', markeredgewidth=1)]
labels = ['95% Prediction Limits', 'Fit', '95% Confidence Limits']
leg = fig.legend(handles, labels, loc='upper left', bbox_to_anchor=(180 / W, 1), borderaxespad=0,
                 fontsize=10.1, fancybox=False, framealpha=1, edgecolor='#666666', labelcolor=TEXT,
                 handlelength=1.3, labelspacing=0.45, handletextpad=0.45, borderpad=0.42)
leg.get_frame().set_linewidth(1.1)

fig.savefig('out.png', dpi=100)
